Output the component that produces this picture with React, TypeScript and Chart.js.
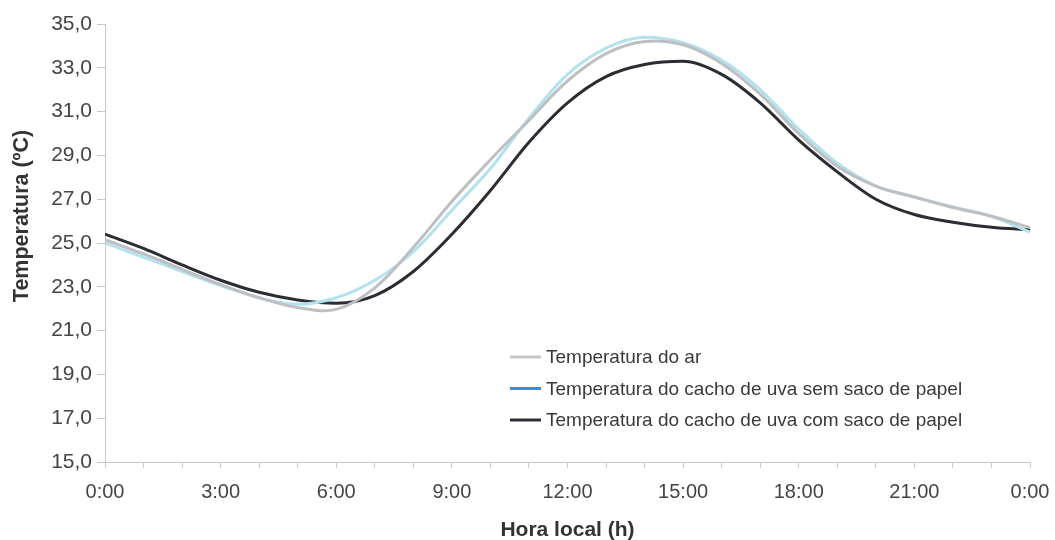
import React, { useEffect, useRef } from "react";
import { Chart, registerables } from "chart.js";

Chart.register(...registerables);

const hours = [0, 1, 2, 3, 4, 5, 6, 7, 8, 9, 10, 11, 12, 13, 14, 15, 16, 17, 18, 19, 20, 21, 22, 23, 24];
const xTicks = hours;
const yTicks = [15, 17, 19, 21, 23, 25, 27, 29, 31, 33, 35];

const seriesNames = [
  "Temperatura do ar",
  "Temperatura do cacho de uva sem saco de papel",
  "Temperatura do cacho de uva com saco de papel",
];

const airTemp = [25.15, 24.5, 23.8, 23.1, 22.5, 22.05, 21.97, 22.95, 24.8, 26.9, 28.8, 30.6, 32.4, 33.65, 34.2, 34.05, 33.2, 31.8, 30.0, 28.5, 27.6, 27.1, 26.62, 26.22, 25.7];
const grapeNoBag = [25.0, 24.35, 23.7, 23.05, 22.5, 22.2, 22.5, 23.3, 24.6, 26.5, 28.4, 30.7, 32.7, 33.9, 34.4, 34.15, 33.35, 32.0, 30.2, 28.65, 27.6, 27.1, 26.65, 26.22, 25.5];
const grapeBag = [25.4, 24.75, 24.0, 23.3, 22.75, 22.4, 22.25, 22.6, 23.7, 25.4, 27.4, 29.6, 31.4, 32.6, 33.15, 33.3, 32.7, 31.4, 29.7, 28.25, 27.0, 26.3, 25.95, 25.72, 25.6];

const lineColors = ["#bdbfc2", "#b3e2ef", "#2a2d33"];
const legendColors = ["#c4c6c8", "#2e90ee", "#2a2d33"];
const curveModes = ["default", "monotone", "monotone"];

const FONT = "'Liberation Sans', Arial, sans-serif";

const overlayPlugin = {
  id: "overlay",
  afterDraw(chart: any) {
    const ctx = chart.ctx;
    ctx.save();
    ctx.translate(22, 216);
    ctx.rotate(-Math.PI / 2);
    ctx.font = `bold 21.5px ${FONT}`;
    ctx.fillStyle = "#333";
    ctx.textAlign = "center";
    ctx.textBaseline = "middle";
    ctx.fillText("Temperatura (ºC)", 0, 0);
    ctx.restore();

    ctx.save();
    const lx = 510;
    const ly0 = 357;
    const dy = 31.5;
    ctx.font = `19px ${FONT}`;
    ctx.textBaseline = "middle";
    ctx.textAlign = "left";
    seriesNames.forEach((name, i) => {
      const y = ly0 + i * dy;
      ctx.strokeStyle = legendColors[i];
      ctx.lineWidth = 3;
      ctx.beginPath();
      ctx.moveTo(lx, y);
      ctx.lineTo(lx + 31, y);
      ctx.stroke();
      ctx.fillStyle = "#3a3a3a";
      ctx.fillText(name, lx + 36, y + 1);
    });
    ctx.restore();
  },
};

export default function App() {
  const ref = useRef<HTMLCanvasElement>(null);
  useEffect(() => {
    if (!ref.current) return;
    const series = [airTemp, grapeNoBag, grapeBag];
    const chart = new Chart(ref.current, {
      type: "line",
      data: {
        datasets: series.map((vals, i) => ({
          label: seriesNames[i],
          data: hours.map((h, j) => ({ x: h, y: vals[j] })),
          borderColor: lineColors[i],
          backgroundColor: lineColors[i],
          borderWidth: 3,
          pointRadius: 0,
          cubicInterpolationMode: curveModes[i],
          tension: 0.35,
          fill: false,
        })),
      },
      options: {
        responsive: false,
        animation: false,
        layout: { padding: { left: 0, right: 25, top: 24, bottom: 0 } },
        plugins: { legend: { display: false }, tooltip: { enabled: false } },
        scales: {
          x: {
            type: "linear",
            min: 0,
            max: 24,
            afterBuildTicks: (s: any) => {
              s.ticks = xTicks.map((v) => ({ value: v }));
            },
            afterFit: (s: any) => {
              s.height = 78;
              s.paddingLeft = 0;
              s.paddingRight = 0;
            },
            border: { display: true, color: "#c8c8c8", width: 1 },
            grid: { display: true, drawOnChartArea: false, drawTicks: true, tickLength: 6, color: "#c8c8c8" },
            ticks: {
              autoSkip: false,
              maxRotation: 0,
              padding: 12,
              color: "#444",
              font: { family: FONT, size: 20 },
              callback: (v: any) => (Number(v) % 3 === 0 ? `${Number(v) % 24}:00` : ""),
            },
            title: {
              display: true,
              text: "Hora local (h)",
              color: "#333",
              font: { family: FONT, size: 21, weight: "bold" },
              padding: { top: 0, bottom: -3 },
            },
          },
          y: {
            type: "linear",
            min: 15,
            max: 35,
            afterBuildTicks: (s: any) => {
              s.ticks = yTicks.map((v) => ({ value: v }));
            },
            afterFit: (s: any) => {
              s.width = 105;
            },
            border: { display: true, color: "#c8c8c8", width: 1 },
            grid: { display: true, drawOnChartArea: false, drawTicks: true, tickLength: 8, color: "#c8c8c8" },
            ticks: {
              padding: 5,
              color: "#444",
              font: { family: FONT, size: 21 },
              callback: (v: any) => Number(v).toFixed(1).replace(".", ","),
            },
          },
        },
      },
      plugins: [overlayPlugin],
    });
    return () => chart.destroy();
  }, []);
  return (
    <div style={{ position: "absolute", left: 0, top: 0, width: 1055, height: 540, background: "#fff" }}>
      <canvas ref={ref} width={1055} height={540} />
    </div>
  );
}
